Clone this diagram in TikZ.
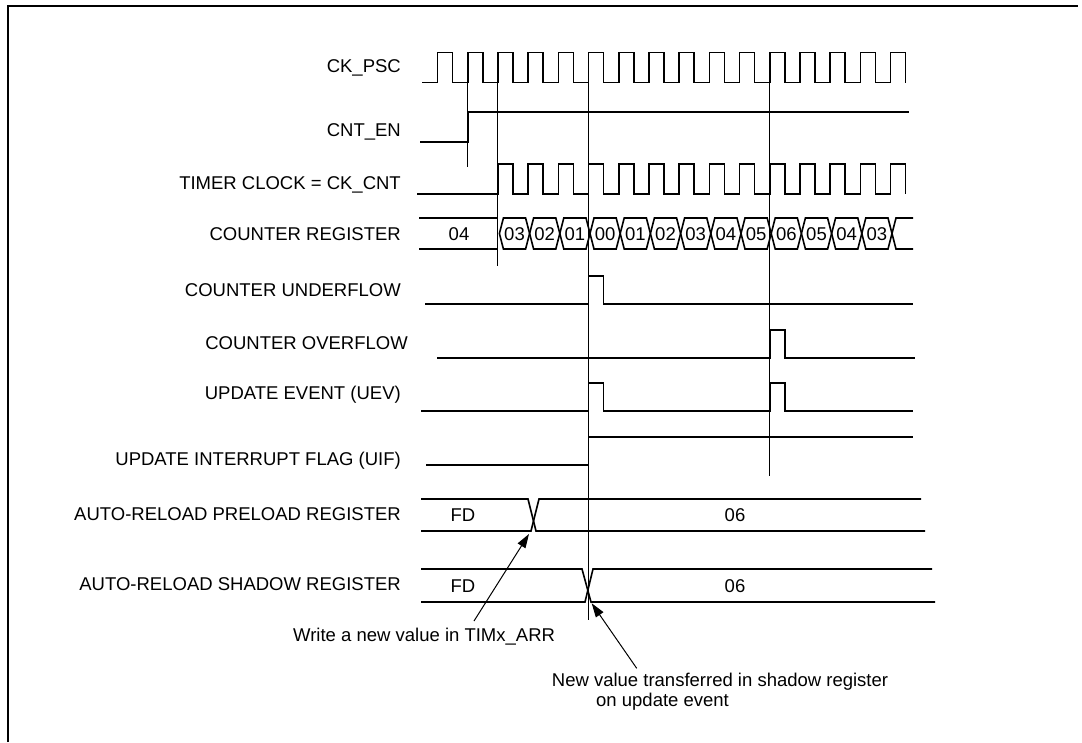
\documentclass[tikz,border=0pt]{standalone}
\usepackage{fontspec}
\setmainfont{Liberation Sans}
\usetikzlibrary{arrows.meta}
\begin{document}
\begin{tikzpicture}[x=1pt,y=-1pt,
  sig/.style={line width=1.6pt, line join=miter},
  guide/.style={line width=0.9pt},
  frame/.style={line width=2.5pt},
  lbl/.style={anchor=east, inner sep=0pt, text height=13.2pt, text depth=0pt, font=\fontsize{18.5}{22}\selectfont},
  val/.style={inner sep=0pt, text height=13.2pt, text depth=0pt, font=\fontsize{18.5}{22}\selectfont},
  note/.style={anchor=base west, inner sep=0pt, font=\fontsize{18.5}{22}\selectfont},
  arr/.style={line width=1pt, -{Triangle[length=14pt,width=9pt]}}
]
\useasboundingbox (0,0) rectangle (1082,742);
\def\R{437.5}\def\P{30.2}\def\H{15.1}
% frame
\draw[frame] (8,742) -- (8,6) -- (1078,6);

% labels
\node[lbl] (lckpsc) at (401,66) {CK\_PSC};
\node[lbl] (lcnten) at (401,130) {CNT\_EN};
\node[lbl] (ltimer) at (401,183) {TIMER CLOCK = CK\_CNT};
\node[lbl] (lcnt) at (401,233.5) {COUNTER REGISTER};
\node[lbl] (lunder) at (401,290) {COUNTER UNDERFLOW};
\node[lbl] (lover) at (408,343) {COUNTER OVERFLOW};
\node[lbl] (luev) at (401,393) {UPDATE EVENT (UEV)};
\node[lbl] (luif) at (401,459) {UPDATE INTERRUPT FLAG (UIF)};
\node[lbl] (lpre) at (401,514) {AUTO-RELOAD PRELOAD REGISTER};
\node[lbl] (lsha) at (401,584) {AUTO-RELOAD SHADOW REGISTER};

% guide lines
\draw[guide] ({\R+1*\P},82.5) -- ({\R+1*\P},167);
\draw[guide] ({\R+2*\P},82.5) -- ({\R+2*\P},266);
\draw[guide] ({\R+5*\P},82.5) -- ({\R+5*\P},620);
\draw[guide] ({\R+11*\P},82.5) -- ({\R+11*\P},476);

% CK_PSC
\draw[sig] (422,82.5) foreach \k in {0,...,15} { -- ({\R+\k*\P},82.5) -- ({\R+\k*\P},52.5) -- ({\R+\k*\P+\H},52.5) -- ({\R+\k*\P+\H},82.5) };
% CNT_EN
\draw[sig] (420,142) -- ({\R+\P},142) -- ({\R+\P},112) -- (909,112);
% TIMER CLOCK
\draw[sig] (417,194) foreach \k in {2,...,15} { -- ({\R+\k*\P},194) -- ({\R+\k*\P},164) -- ({\R+\k*\P+\H},164) -- ({\R+\k*\P+\H},194) };

% COUNTER REGISTER
\draw[sig] (419,218) -- ({\R+2*\P},218);
\draw[sig] (419,249) -- ({\R+2*\P},249);
\node[val] (c1) at (459,233.5) {04};
\foreach \k/\v in {2/03,3/02,4/01,5/00,6/01,7/02,8/03,9/04,10/05,11/06,12/05,13/04,14/03} {
  \pgfmathsetmacro\a{\R+\k*\P+1.5}
  \pgfmathsetmacro\b{\R+(\k+1)*\P+1.5}
  \draw[sig] (\a,233.5) -- ({\a+4},218) -- ({\b-4},218) -- (\b,233.5) -- ({\b-4},249) -- ({\a+4},249) -- cycle;
  \node[val] (c\k) at ({(\a+\b)/2},233.5) {\v};
}
\pgfmathsetmacro\a{\R+15*\P+1.5}
\draw[sig] (913,218) -- ({\a+4},218) -- (\a,233.5) -- ({\a+4},249) -- (913,249);

% COUNTER UNDERFLOW
\draw[sig] (425,304) -- ({\R+5*\P},304) -- ({\R+5*\P},276) -- ({\R+5*\P+\H},276) -- ({\R+5*\P+\H},304) -- (913,304);
% COUNTER OVERFLOW
\draw[sig] (437,358) -- ({\R+11*\P},358) -- ({\R+11*\P},330) -- ({\R+11*\P+\H},330) -- ({\R+11*\P+\H},358) -- (915,358);
% UEV
\draw[sig] (421,411) -- ({\R+5*\P},411) -- ({\R+5*\P},383) -- ({\R+5*\P+\H},383) -- ({\R+5*\P+\H},411)
  -- ({\R+11*\P},411) -- ({\R+11*\P},383) -- ({\R+11*\P+\H},383) -- ({\R+11*\P+\H},411) -- (913,411);
% UIF
\draw[sig] (426,465) -- ({\R+5*\P},465) -- ({\R+5*\P},437) -- (913,437);

% AUTO-RELOAD PRELOAD
\draw[sig] (421,499) -- (528,499) -- (536,531) -- (925,531);
\draw[sig] (421,531) -- (531,531) -- (539,499) -- (921,499);
\node[val] (pfd) at (463,515) {FD};
\node[val] (p06) at (735,515) {06};
% AUTO-RELOAD SHADOW
\draw[sig] (421,569) -- (582,569) -- (591,602) -- (935,602);
\draw[sig] (421,602) -- (585,602) -- (593,569) -- (932,569);
\node[val] (sfd) at (463,586) {FD};
\node[val] (s06) at (735,586) {06};

% annotations
\node[note] (noteA) at (293,641.6) {Write a new value in TIMx\_ARR};
\node[note] (noteB) at (551.7,686) {New value transferred in shadow register};
\node[note] (noteC) at (596,706.7) {on update event};
\coordinate (tailA) at (474,621);
\coordinate (tipA) at (529,534);
\coordinate (tailB) at (636.7,668.3);
\coordinate (tipB) at (591.7,603.3);
\draw[arr] (tailA) -- (tipA);
\draw[arr] (tailB) -- (tipB);
\end{tikzpicture}
\end{document}
